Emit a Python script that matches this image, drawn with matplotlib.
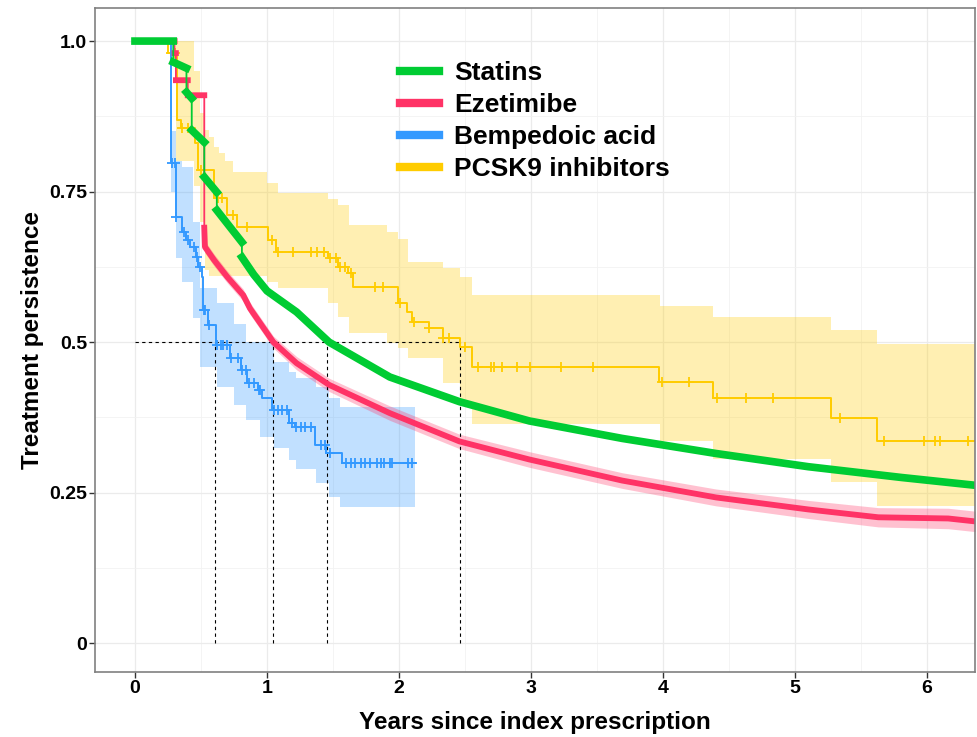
import numpy as np
import matplotlib
matplotlib.use('Agg')
import matplotlib.pyplot as plt
from matplotlib.lines import Line2D

plt.rcParams['font.family'] = ['Liberation Sans', 'DejaVu Sans']
plt.rcParams['font.weight'] = 'bold'

# Kaplan-Meier curves (years, persistence)
# Statins / Ezetimibe: very dense events, given as vertices
stat_t = [0, 0.29, 0.29, 0.39, 0.39, 0.43, 0.43, 0.525, 0.525, 0.62, 0.62, 0.81, 0.81,
          0.9, 1.0, 1.224, 1.47, 1.93, 2.458, 2.987, 3.69, 4.40, 5.10, 5.81, 6.37]
stat_s = [1.0, 1.0, 0.965, 0.955, 0.915, 0.905, 0.852, 0.832, 0.774, 0.749, 0.719, 0.666, 0.641,
          0.612, 0.585, 0.55, 0.5, 0.442, 0.401, 0.369, 0.340, 0.315, 0.293, 0.275, 0.262]

eze_t = [0, 0.30, 0.30, 0.31, 0.31, 0.40, 0.40, 0.525, 0.525, 0.53, 0.6, 0.7, 0.82, 0.871,
         1.048, 1.224, 1.47, 1.93, 2.458, 2.987, 3.69, 4.40, 5.10, 5.63, 6.16, 6.37]
eze_s = [1.0, 1.0, 0.98, 0.98, 0.935, 0.935, 0.91, 0.91, 0.69, 0.658, 0.636, 0.608, 0.578, 0.556,
         0.5, 0.465, 0.429, 0.382, 0.335, 0.305, 0.27, 0.242, 0.222, 0.209, 0.207, 0.202]
eze_ci = [0, 0, 0, 0, 0, 0, 0, 0, 0.01, 0.01, 0.01, 0.01, 0.01, 0.01,
          0.01, 0.011, 0.011, 0.012, 0.012, 0.013, 0.013, 0.014, 0.015, 0.016, 0.017, 0.017]

# Bempedoic acid: step function (time of drop, value after drop)
bemp_t = [0, 0.27, 0.31, 0.36, 0.39, 0.42, 0.46, 0.48, 0.505, 0.515, 0.55, 0.61, 0.72, 0.80,
          0.85, 0.93, 0.96, 1.04, 1.17, 1.21, 1.36, 1.45, 1.57]
bemp_s = [1.0, 0.797, 0.708, 0.683, 0.67, 0.658, 0.641, 0.625, 0.608, 0.553, 0.528, 0.495, 0.473, 0.453,
          0.432, 0.42, 0.407, 0.387, 0.365, 0.359, 0.329, 0.316, 0.299]
bemp_end = 2.12
bemp_cens = [0.28, 0.30, 0.31, 0.37, 0.40, 0.45, 0.47, 0.49, 0.52, 0.53, 0.56, 0.62, 0.65, 0.67, 0.70,
             0.73, 0.78, 0.81, 0.84, 0.86, 0.90, 0.94, 0.95, 1.05, 1.08, 1.11, 1.15, 1.19, 1.22, 1.26,
             1.29, 1.33, 1.41, 1.44, 1.48, 1.60, 1.64, 1.67, 1.71, 1.74, 1.78, 1.83, 1.86, 1.89, 1.93,
             1.95, 2.07, 2.10]
bemp_ci_t = [0.27, 0.31, 0.36, 0.44, 0.49, 0.62, 0.75, 0.84, 0.95, 1.05, 1.17, 1.22, 1.37, 1.47, 1.55]
bemp_hi = [0.85, 0.80, 0.79, 0.70, 0.59, 0.565, 0.53, 0.50, 0.50, 0.467, 0.45, 0.44, 0.425, 0.407, 0.392]
bemp_lo = [0.75, 0.64, 0.60, 0.54, 0.458, 0.425, 0.395, 0.37, 0.342, 0.324, 0.304, 0.29, 0.266, 0.243, 0.226]

# PCSK9 inhibitors: step function
pcsk_t = [0, 0.25, 0.32, 0.35, 0.455, 0.48, 0.6, 0.70, 0.77, 1.01, 1.07, 1.46, 1.54, 1.61, 1.65,
          1.99, 2.06, 2.10, 2.23, 2.33, 2.46, 2.55, 3.97, 4.38, 5.27, 5.62]
pcsk_s = [1.0, 0.98, 0.869, 0.855, 0.83, 0.786, 0.739, 0.711, 0.691, 0.67, 0.649, 0.639, 0.625, 0.614, 0.591,
          0.565, 0.55, 0.533, 0.523, 0.507, 0.492, 0.458, 0.433, 0.407, 0.374, 0.336]
pcsk_end = 6.36
pcsk_cens = [0.27, 0.30, 0.36, 0.40, 0.50, 0.63, 0.66, 0.74, 0.85, 1.04, 1.08, 1.20, 1.33, 1.38, 1.43,
             1.48, 1.52, 1.55, 1.59, 1.64, 1.82, 1.88, 2.01, 2.11, 2.23, 2.33, 2.38, 2.50, 2.60, 2.70,
             2.72, 2.78, 2.89, 2.99, 3.23, 3.47, 3.99, 4.20, 4.41, 4.63, 4.83, 5.34, 5.67, 5.98, 6.06,
             6.10, 6.31]
pcsk_ci_t = [0.31, 0.45, 0.49, 0.53, 0.56, 0.60, 0.64, 0.68, 0.74, 1.0, 1.08, 1.46, 1.54, 1.62, 1.91,
             1.99, 2.07, 2.33, 2.46, 2.55, 3.98, 4.38, 5.27, 5.62]
pcsk_hi = [1.0, 0.95, 0.88, 0.852, 0.84, 0.824, 0.814, 0.80, 0.782, 0.764, 0.747, 0.738, 0.728, 0.694, 0.683,
           0.671, 0.633, 0.623, 0.608, 0.578, 0.56, 0.542, 0.52, 0.497]
pcsk_lo = [0.80, 0.76, 0.70, 0.62, 0.61, 0.61, 0.61, 0.61, 0.61, 0.60, 0.59, 0.565, 0.542, 0.515, 0.498,
           0.49, 0.473, 0.432, 0.40, 0.364, 0.336, 0.306, 0.267, 0.228]

# medians: Bempedoic, Ezetimibe, Statins, PCSK9
medians = [0.606, 1.045, 1.455, 2.46]

labels = ['Statins', 'Ezetimibe', 'Bempedoic acid', 'PCSK9 inhibitors']
colors = ['#00CC33', '#FF3366', '#3399FF', '#FFCC00']


def step_value(t, s, x):
    idx = np.searchsorted(t, x, side='right') - 1
    return np.array(s)[idx]


def break_drops(t, s):
    # thick part only on the non-vertical pieces (censor marks), verticals stay thin
    tt, ss = [t[0]], [s[0]]
    for i in range(1, len(t)):
        if t[i] == t[i - 1]:
            tt.append(np.nan)
            ss.append(np.nan)
        tt.append(t[i])
        ss.append(s[i])
    return tt, ss


fig = plt.figure(figsize=(9.78, 7.37), dpi=100)
ax = fig.add_axes([0.0971, 0.0882, 0.9, 0.901])

# confidence bands
ax.fill_between(bemp_ci_t + [bemp_end], bemp_hi + [bemp_hi[-1]], bemp_lo + [bemp_lo[-1]],
                step='post', color=colors[2], alpha=0.3, lw=0)
ax.fill_between(pcsk_ci_t + [pcsk_end], pcsk_hi + [pcsk_hi[-1]], pcsk_lo + [pcsk_lo[-1]],
                step='post', color=colors[3], alpha=0.3, lw=0)
eze_a = np.array(eze_s)
eze_w = np.array(eze_ci)
ax.fill_between(eze_t, eze_a - eze_w, eze_a + eze_w, color=colors[1], alpha=0.3, lw=0)

# median lines
ax.plot([0, max(medians)], [0.5, 0.5], color='black', lw=0.8, ls=(0, (3, 3)))
for m in medians:
    ax.plot([m, m], [0, 0.5], color='black', lw=0.8, ls=(0, (3, 3)))

# curves
ax.step(pcsk_t + [pcsk_end], pcsk_s + [pcsk_s[-1]], where='post', color=colors[3], lw=1.4)
ax.plot(pcsk_cens, step_value(pcsk_t, pcsk_s, pcsk_cens), ls='none', marker='+',
        color=colors[3], ms=7, mew=1.3)
ax.step(bemp_t + [bemp_end], bemp_s + [bemp_s[-1]], where='post', color=colors[2], lw=1.4)
ax.plot(bemp_cens, step_value(bemp_t, bemp_s, bemp_cens), ls='none', marker='+',
        color=colors[2], ms=7, mew=1.3)

ax.plot(eze_t, eze_s, color=colors[1], lw=1.3)
et, es = break_drops(eze_t, eze_s)
ax.plot(et, es, color=colors[1], lw=4.2)
ax.plot(stat_t, stat_s, color=colors[0], lw=1.3)
st, ss = break_drops(stat_t, stat_s)
ax.plot(st, ss, color=colors[0], lw=5.5)

ax.set_xlim(-0.303, 6.364)
ax.set_ylim(-0.048, 1.055)
ax.set_xticks(range(7))
ax.set_yticks([0, 0.25, 0.5, 0.75, 1.0])
ax.set_yticklabels(['0', '0.25', '0.5', '0.75', '1.0'])
ax.set_xticks(np.arange(0.5, 6.5, 1), minor=True)
ax.set_yticks([0.125, 0.375, 0.625, 0.875], minor=True)
ax.grid(which='major', color='#EBEBEB', lw=0.9)
ax.grid(which='minor', color='#F2F2F2', lw=0.6)
ax.set_axisbelow(True)
ax.tick_params(which='major', direction='out', length=4, width=1, color='#333333',
               labelsize=14, pad=1.5)
ax.tick_params(which='minor', length=0)
for sp in ax.spines.values():
    sp.set_color('#808080')
    sp.set_linewidth(1.2)

ax.set_xlabel('Years since index prescription', fontsize=17.5, fontweight='bold', labelpad=10)
ax.set_ylabel('Treatment persistence', fontsize=17.5, fontweight='bold', labelpad=4)

handles = [Line2D([], [], color=c, lw=6) for c in colors]
ax.legend(handles, labels, loc='upper left', bbox_to_anchor=(0.347, 0.92), frameon=False,
          prop={'size': 19, 'weight': 'bold'}, handlelength=1.45, handletextpad=0.6,
          labelspacing=0.3, borderpad=0, borderaxespad=0)

fig.savefig('out.png', dpi=100)
